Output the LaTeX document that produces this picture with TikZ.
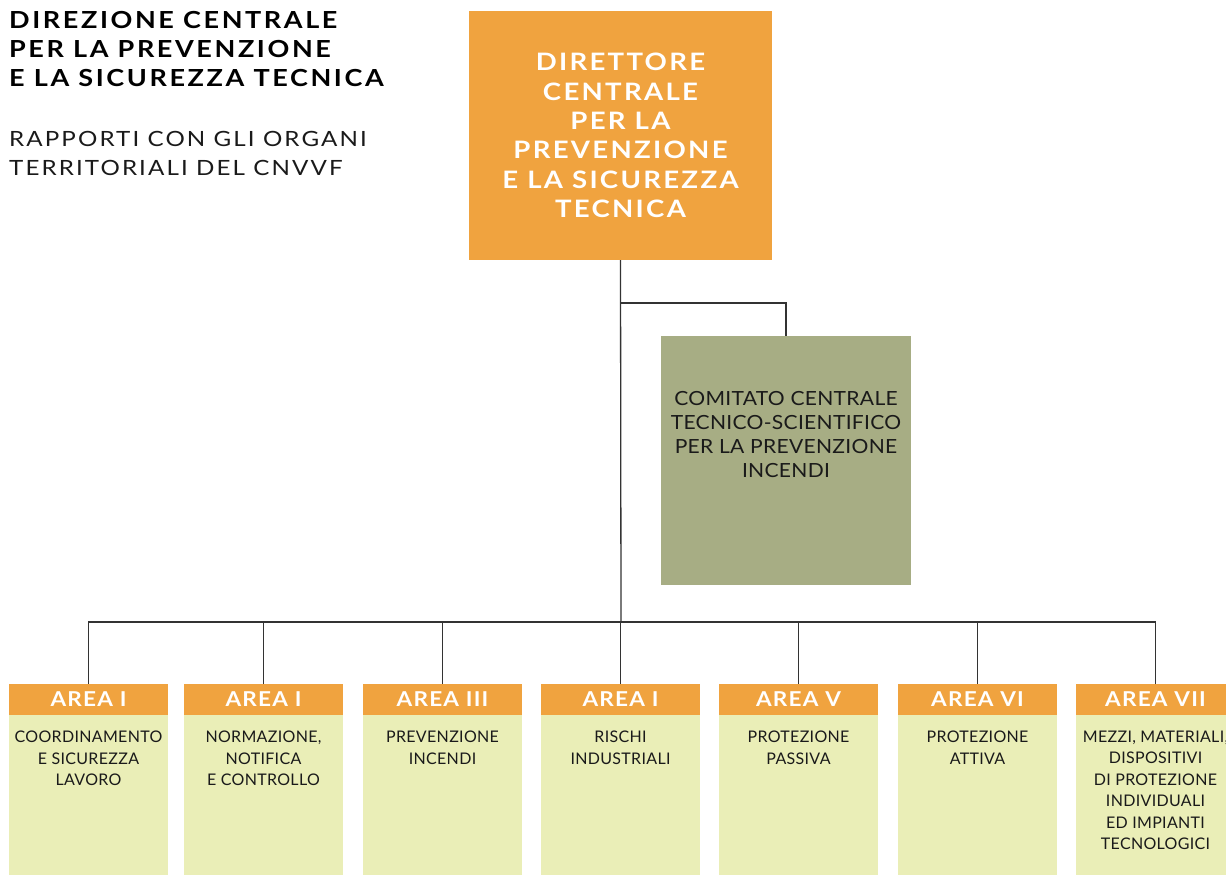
\documentclass[tikz,border=0pt]{standalone}
\usepackage{fontspec}
\setmainfont{Lato}
\definecolor{orng}{HTML}{F0A33F}
\definecolor{olivebox}{HTML}{A7AD84}
\definecolor{pale}{HTML}{EAEEB7}
\definecolor{linec}{HTML}{333333}
\definecolor{txt}{HTML}{1A1A1A}
\tikzset{
  conn/.style={draw=linec, line width=1.3pt},
  boxbase/.style={inner sep=0pt, outer sep=0pt, anchor=north west},
  hdrbox/.style={boxbase, fill=orng, minimum width=159pt, minimum height=31pt, text=white,
     font=\fontsize{20.5}{24}\selectfont\bfseries\addfontfeatures{FakeStretch=1.1,LetterSpace=6}},
  bodybox/.style={boxbase, fill=pale, minimum width=159pt, minimum height=160pt},
  bodytext/.style={anchor=north, inner sep=0pt, align=center, text=txt,
     font=\fontsize{16}{21.5}\selectfont\addfontfeatures{LetterSpace=2}},
}
\begin{document}
\begin{tikzpicture}[x=1pt,y=-1pt]
\useasboundingbox (0,0) rectangle (1226,875);
% title
\node[anchor=north west, inner sep=0pt, align=left, text=black,
  font=\fontsize{23.5}{29}\selectfont\bfseries\addfontfeatures{FakeStretch=1.15,LetterSpace=11}] (title) at (9,11)
  {DIREZIONE CENTRALE\\PER LA PREVENZIONE\\E LA SICUREZZA TECNICA};
\node[anchor=north west, inner sep=0pt, align=left, text=txt,
  font=\fontsize{21}{28.5}\selectfont\addfontfeatures{FakeStretch=1.15,LetterSpace=10}] (sub) at (9,131.5)
  {RAPPORTI CON GLI ORGANI\\TERRITORIALI DEL CNVVF};
% director
\node[boxbase, fill=orng, minimum width=303pt, minimum height=249pt, text=white, align=center,
  font=\fontsize{24}{29.3}\selectfont\bfseries\addfontfeatures{FakeStretch=1.15,LetterSpace=9.5}] (dir) at (469,11)
  {DIRETTORE\\CENTRALE\\PER LA\\PREVENZIONE\\E LA SICUREZZA\\TECNICA};
% committee
\node[boxbase, fill=olivebox, minimum width=250pt, minimum height=249pt] (comm) at (661,336) {};
\node[anchor=north, inner sep=0pt, align=center, text=txt,
  font=\fontsize{19.5}{24}\selectfont\addfontfeatures{FakeStretch=1.08,LetterSpace=1.5}] (commt) at (786,391.5)
  {COMITATO CENTRALE\\TECNICO-SCIENTIFICO\\PER LA PREVENZIONE\\INCENDI};
% areas
\foreach \i/\x/\h/\b in {
  1/9/{AREA I}/{COORDINAMENTO\\E SICUREZZA\\LAVORO},
  2/184/{AREA I}/{NORMAZIONE,\\NOTIFICA\\E CONTROLLO},
  3/363/{AREA III}/{PREVENZIONE\\INCENDI},
  4/541/{AREA I}/{RISCHI\\INDUSTRIALI},
  5/719/{AREA V}/{PROTEZIONE\\PASSIVA},
  6/898/{AREA VI}/{PROTEZIONE\\ATTIVA},
  7/1076/{AREA VII}/{MEZZI, MATERIALI,\\DISPOSITIVI\\DI PROTEZIONE\\INDIVIDUALI\\ED IMPIANTI\\TECNOLOGICI}}{
  \node[hdrbox] (hdr\i) at (\x,684) {\h};
  \node[bodybox] (body\i) at (\x,715) {};
  \node[bodytext] (bt\i) at ([yshift=-15.7pt]body\i.north) {\b};
}
% connectors
\coordinate (bus) at (621,622);
\coordinate (br) at (621,303);
\draw[conn] (dir.south) -- (bus);
\draw[conn] (br) -| (comm.north);
\foreach \i in {1,...,7}{
  \draw[conn] (hdr\i.north) |- (bus);
}
\end{tikzpicture}
\end{document}
